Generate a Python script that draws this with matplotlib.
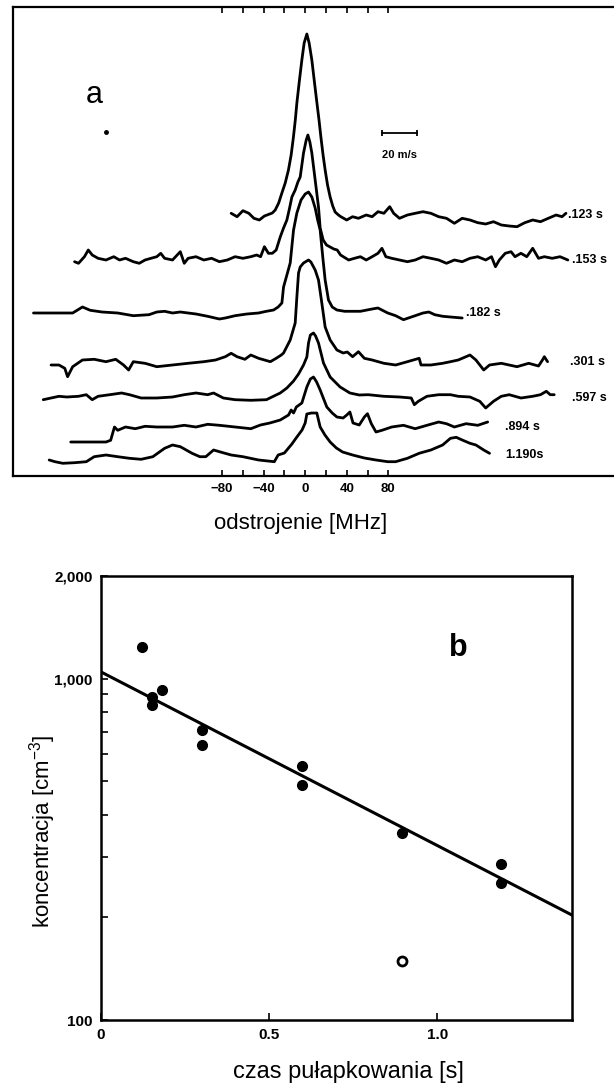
import matplotlib
matplotlib.use("Agg")
import matplotlib.pyplot as plt
from matplotlib.ticker import FixedLocator, FixedFormatter, NullFormatter

plt.rcParams['font.family'] = ['Liberation Sans', 'DejaVu Sans']
plt.rcParams['mathtext.fontset'] = 'custom'
plt.rcParams['mathtext.rm'] = 'Liberation Sans'
plt.rcParams['mathtext.it'] = 'Liberation Sans:italic'
plt.rcParams['mathtext.bf'] = 'Liberation Sans:bold'

# ---------------- Panel a data: spectra (detuning in MHz, signal in arb. units) -------------
trace_labels = ['.123 s', '.153 s', '.182 s', '.301 s', '.597 s', '.894 s', '1.190s']

x_123 = [-71.2, -65.5, -59.9, -54.2, -49.3, -44.1, -39.2,
         -31.6, -28.8, -25.5, -22.4, -19.2, -16.1, -13.5, -11.3, -9.5, -8.0, -5.5, -3.2, -1.0,
         1.6, 3.8, 6.4, 9.0, 11.3, 13.3, 15.1, 17.2, 19.2, 21.5, 24.0, 26.5, 28.8, 32.0,
         34.3, 39.9, 45.6, 51.2, 58.7, 64.4, 70.0, 75.7, 81.3, 85.1, 90.7, 98.3, 105.8, 113.3,
         120.9, 128.4, 135.9, 143.5, 151.0, 158.5, 166.0, 173.6, 181.1, 188.6, 196.2, 203.7,
         211.2, 218.8, 226.3, 233.8, 241.3, 247.0, 250.8]
y_123 = [1.7, -1.7, 4.3, 1.7, -3.3, -5.0, -1.0,
         2, 5, 12, 22, 32, 45, 60, 78, 95, 112, 135, 155, 172,
         181, 172, 155, 132, 112, 95, 78, 60, 45, 30, 18, 9, 3, 0,
         -1.7, -5.0, -1.7, -3.3, 0.0, -1.7, 3.3, 1.7, 8.3, 1.7, -3.3, 0.0, 1.7, 3.3,
         1.7, -1.7, -3.3, -8.3, -3.3, -5.0, -7.7, -9.0, -6.7, -10.0, -11.0, -11.7,
         -7.7, -5.0, -6.7, -3.3, 0.0, -1.7, 1.7]

x_153 = [-221.8, -218.0, -212.3, -208.6, -204.8, -199.2, -191.6, -184.1, -178.5, -172.8,
         -165.3, -159.6, -154.0, -148.3, -142.7, -138.9, -135.2, -127.6, -120.1, -116.3,
         -112.6, -105.0, -97.5, -90.0, -82.5, -74.9, -67.4, -59.9, -52.3, -46.7,
         -42.9, -39.2, -35.4, -31.6,
         -27.9, -24.0, -20.8, -17.6, -15.0, -12.8, -9.6, -7.0, -4.8, -1.6,
         1.0, 2.6, 4.5, 6.4, 9.6, 12.8, 14.4, 17.3, 20.5, 24.0, 27.5, 30.8, 34.0,
         41.8, 47.4, 53.1, 58.7, 64.4, 70.0, 73.8, 77.6, 83.2, 90.7,
         98.3, 105.8, 113.3, 120.9, 128.4, 135.9, 143.5, 151.0, 158.5, 166.0,
         173.6, 179.2, 183.0, 186.7, 192.4, 198.0, 201.8, 207.5, 213.1, 218.8,
         224.4, 230.0, 237.6, 245.1, 252.6]
y_153 = [-1.7, -3.3, 3.3, 10, 5, 1.7, 0, 3.3, 0, 1.7,
         -1.7, -3.3, 0, 1.7, 3.3, 6.7, 1.7, 0, 8.3, -3.3,
         1.7, 3.3, 0, 1.7, -1.7, 0, 3.3, 1.7, 3.3, 5,
         3.3, 13.3, 6.7, 6.7,
         10, 23, 32, 40, 52, 63, 70, 78, 83, 107,
         120, 125, 118, 107, 80, 53, 32, 20, 15, 13, 11, 10, 5,
         0, 1.7, 3.3, 0, 3.3, 6.7, 11.7, 3.3, 1.7, 0,
         -1.7, 0, 3.3, 1.7, 0, -3.3, 0, -1.7, 1.7, 3.3,
         0, 3.3, -6.7, 0, 6.7, 8.3, 3.3, 6.7, 3.3, 11.7,
         1.7, 3.3, 1.7, 3.3, 0]

x_182 = [-261.3, -244.4, -223.6, -214.2, -206.7, -195.4, -180.3, -165.3, -150.2, -142.7,
         -135.2, -127.6, -120.1, -112.6, -105.0, -93.8, -82.5, -76.8, -67.4, -56.1,
         -44.8, -37.3,
         -30.4, -26.0, -22.4, -20.8, -17.6, -14.4, -11.2, -8.0, -4.0, 0.0,
         3.2, 6.4, 9.6, 12.0, 14.4, 17.0, 19.2, 22.4, 26.0, 30.5,
         38.0, 53.1, 64.4, 70.0, 79.4, 87.0, 94.5, 105.8, 113.3, 119.0, 124.6, 132.2, 139.7, 151.0]
y_182 = [0, 0, 0, 6, 2.7, 1, 0, -2.7, -1.7, 1,
         1.7, 0, 1, 0, -1, -3.3, -6, -5, -2.7, -1,
         0, 1.7,
         3, 6, 10, 26, 38, 50, 83, 100, 113, 119,
         121, 116, 105, 93, 83, 55, 33, 13, 6, 3,
         1.7, 1.7, 4, 5, 0, -2.7, -6.7, -2.7, 0, 1, -1.7, -3.3, -4, -5]

x_301 = [-244.4, -236.8, -231.2, -228.5, -223.6, -214.2, -202.9, -191.6, -182.2, -174.7,
         -169.8, -165.3, -154.0, -142.7, -127.6, -112.6, -97.5, -86.2, -76.8, -71.2,
         -65.5, -58.0, -52.3, -44.8, -33.5, -27.9,
         -23.0, -20.8, -14.4, -9.6, -8.0, -6.4, -4.8, -1.6, 3.2, 5.5,
         9.6, 12.8, 16.0, 19.2, 24.0, 30.5, 36.5, 40.5,
         45.6, 51.2, 56.9, 64.4, 75.7, 87.0, 98.3, 109.6, 111.4, 120.9,
         132.2, 139.7, 147.2, 158.5, 164.2, 171.7, 177.3, 188.6, 203.7, 215.0,
         224.4, 228.2, 230.0, 233.1]
y_301 = [0, 0, -3.3, -11.7, -1.7, 5, 5.7, 3.3, 5.7, 0,
         -5, 3.3, 1.7, -1.7, 0, 1.7, 3.3, 5, 8.3, 11.7,
         8.3, 5.7, 10, 6.7, 3.3, 6.7,
         10, 12, 25, 42, 68, 92, 98, 102, 105, 103,
         95, 85, 62, 38, 25, 15, 12, 13,
         8.3, 13.3, 6.7, 5, 1.7, 0, 3.3, 6.7, 0, 0,
         1.7, 3.3, 5, 10, 5, -5, 0, 1.7, -1.7, 1.7,
         -1, 5, 8.3, 3.3]

x_597 = [-251.9, -244.4, -236.8, -229.3, -218.0, -210.5, -204.8, -199.2, -187.9, -176.6,
         -169.0, -157.8, -142.7, -127.6, -116.3, -105.0, -93.8, -88.1, -78.7, -67.4,
         -52.3, -37.3,
         -30.0, -24.0, -17.6, -11.2, -6.4, -1.6, 1.6, 3.2, 5.0, 8.0,
         10.0, 12.8, 17.6, 24.0, 33.6, 43.0, 52.0,
         60.6, 75.7, 90.7, 102.0, 105.0, 108.8, 117.1, 128.4, 139.7, 147.2,
         158.5, 167.9, 173.6, 181.1, 188.6, 196.2, 207.5, 218.8, 226.3, 231.9,
         235.7, 239.5]
y_597 = [-1.7, 0, 1.7, 1, 1.7, 3.3, -1.7, 1.7, 3.3, 5,
         3.3, 0, 0, 1, 3.3, 5, 3.3, 5, 0, -1.7,
         -2.3, -1.7,
         2, 5, 10, 17, 24, 33, 41, 55, 63, 65,
         62, 55, 35, 21, 11, 5, 3,
         3.3, 1.7, 1, 0, -6.7, -3.3, 1.7, 3.3, 3.3, 1.7,
         1, -3.3, -10, -3.3, 1.7, 3.3, 0, 1.7, 3.3, 6.7,
         3.3, 3.3]

x_894 = [-225.5, -191.6, -187.1, -183.4, -180.3, -172.8, -163.4, -154.0, -142.7, -127.6,
         -116.3, -105.0, -93.8, -82.5, -67.4, -52.3, -43.0, -34.0, -24.0, -16.0,
         -13.5, -11.2, -8.5, -3.2, 1.6, 5.0, 8.0, 11.0, 14.4, 20.8,
         26.0, 30.5, 36.5, 40.0, 43.0, 46.0, 52.0, 56.9, 59.9, 63.6,
         68.1, 73.8, 83.2, 94.5, 105.8, 117.1, 128.4, 135.9, 143.5, 154.7,
         166.0, 175.5]
y_894 = [-15, -15, -13.3, 0, -3.3, 0, -1.7, 0.7, 0, 0,
         1.7, 0, 2.7, 1.7, 0, -1.7, 2, 4, 7, 12,
         17, 14, 20, 24, 40, 48, 50, 45, 37, 20,
         14, 10, 9, 12, 15, 4, 2, 10, 13.3, 3.3,
         -5, -3.3, 0, 1.7, -1.7, 1.7, 5, 3.3, 0, 3.3,
         1.7, 5]

x_1190 = [-246.2, -240.6, -233.1, -221.8, -210.5, -202.9, -191.6, -180.3, -169.0, -157.8,
          -146.5, -135.2, -127.6, -120.1, -108.8, -101.3, -95.6, -88.1, -82.5, -71.2,
          -59.9, -44.8, -29.7, -26.0, -20.0, -17.6, -12.8, -8.0, -3.0, 0.0,
          1.6, 6.0, 11.2, 14.4, 19.0, 24.0, 30.0, 36.0, 45.6, 56.9,
          68.1, 79.4, 87.0, 98.3, 109.6, 120.9, 132.2, 139.7, 145.3, 151.0,
          158.5, 164.2, 171.7, 177.3]
y_1190 = [0, -1.7, -3.3, -2.7, -1.7, 3.3, 5, 3.3, 1.7, 0.7,
          3.3, 11.7, 15, 13.3, 6.7, 3.3, 3.3, 10, 8.3, 5,
          3.3, 0, -1.7, 5, 7, 10, 16, 23, 30, 37,
          46, 47, 47, 33, 25, 18, 12, 8, 5, 2,
          0, -1.7, -1.7, 1.7, 6.7, 10, 15, 21.7, 22.7, 20,
          16.7, 15, 10, 6.7]

# ---------------- Panel b data ----------------
t_filled = [0.123, 0.153, 0.153, 0.182, 0.301, 0.301, 0.597, 0.597, 0.894, 1.190, 1.190]
n_filled = [1240, 884, 838, 927, 708, 640, 555, 489, 353, 287, 252]
t_open = [0.894]
n_open = [149]
fit_t = [0.0, 1.4]
fit_n = [1047, 203]
yticks_b = [100, 1000, 2000]
yticklabels_b = ['100', '1,000', '2,000']
yminor_b = [200, 300, 400, 500, 600, 700, 800, 900]
xticks_b = [0, 0.5, 1.0]
xticklabels_b = ['0', '0.5', '1.0']
xticks_a = [-80, -40, 0, 40, 80]
xticklabels_a = ['\u221280', '\u221240', '0', '40', '80']
xminor_a = [-60, -20, 20, 60]

# ---------------- Layout ----------------
W, H = 614, 1084
fig = plt.figure(figsize=(W / 100, H / 100), dpi=100)

# Panel a
axA = fig.add_axes([13 / W, 1 - 476 / H, 627 / W, 469 / H])
axA.set_xlim(-281, 322)
axA.set_ylim(0, 469)
baselines = [261, 216, 163, 111, 78, 49, 16]
xs = [x_123, x_153, x_182, x_301, x_597, x_894, x_1190]
ys = [y_123, y_153, y_182, y_301, y_597, y_894, y_1190]
label_pos = [(253, 261), (257, 216), (155, 163), (255, 114), (257, 78), (192, 49), (192, 21)]
for x, y, b, lab, (lx, ly) in zip(xs, ys, baselines, trace_labels, label_pos):
    axA.plot(x, [b + v for v in y], color='black', lw=2.0, solid_joinstyle='round',
             solid_capstyle='round')
    axA.text(lx, ly, lab, fontsize=9, fontweight='bold', ha='left', va='center')

for s in ['left', 'top', 'bottom']:
    axA.spines[s].set_linewidth(1.6)
axA.spines['right'].set_visible(False)
axA.set_yticks([])
axA.xaxis.set_major_locator(FixedLocator(xticks_a))
axA.xaxis.set_major_formatter(FixedFormatter(xticklabels_a))
axA.xaxis.set_minor_locator(FixedLocator(xminor_a))
axA.tick_params(axis='x', which='both', direction='in', top=True, length=4, width=1.2,
                labelsize=9.5, pad=5)
for t in axA.get_xticklabels():
    t.set_fontweight('bold')

axA.text(-203, 381, 'a', fontsize=22, ha='center', va='center')
axA.plot([-192], [344], 'o', color='black', ms=2.5)
axA.plot([74, 108], [343, 343], color='black', lw=1.3)
axA.plot([74, 108], [343, 343], '|', color='black', ms=5, mew=1.3)
axA.text(91, 321, '20 m/s', fontsize=8, fontweight='bold', ha='center', va='center')

fig.text(301 / W, 1 - 523 / H, 'odstrojenie [MHz]', fontsize=16, ha='center', va='center')

# Panel b
axB = fig.add_axes([101 / W, 1 - 1020 / H, 471 / W, 444 / H])
axB.set_yscale('log')
axB.set_xlim(0, 1.4)
axB.set_ylim(100, 2000)
axB.plot(fit_t, fit_n, color='black', lw=2.2)
axB.plot(t_filled, n_filled, 'o', color='black', ms=7)
axB.plot(t_open, n_open, 'o', mfc='white', mec='black', mew=2, ms=6.5)
axB.yaxis.set_major_locator(FixedLocator(yticks_b))
axB.yaxis.set_major_formatter(FixedFormatter(yticklabels_b))
axB.yaxis.set_minor_locator(FixedLocator(yminor_b))
axB.yaxis.set_minor_formatter(NullFormatter())
axB.xaxis.set_major_locator(FixedLocator(xticks_b))
axB.xaxis.set_major_formatter(FixedFormatter(xticklabels_b))
axB.tick_params(axis='both', which='both', direction='in', length=5, width=1.2,
                labelsize=11, pad=6)
for t in axB.get_xticklabels() + axB.get_yticklabels():
    t.set_fontweight('bold')
for s in axB.spines.values():
    s.set_linewidth(1.8)
axB.text(0.758, 0.838, 'b', transform=axB.transAxes, fontsize=22, fontweight='bold',
         ha='center', va='center')

fig.text(43 / W, 1 - 831 / H, 'koncentracja [cm$^{-3}$]', rotation=90, fontsize=16,
         ha='center', va='center')
fig.text(348 / W, 1 - 1072 / H, 'czas pułapkowania [s]', fontsize=17, ha='center', va='center')

fig.savefig('out.png', dpi=100)
